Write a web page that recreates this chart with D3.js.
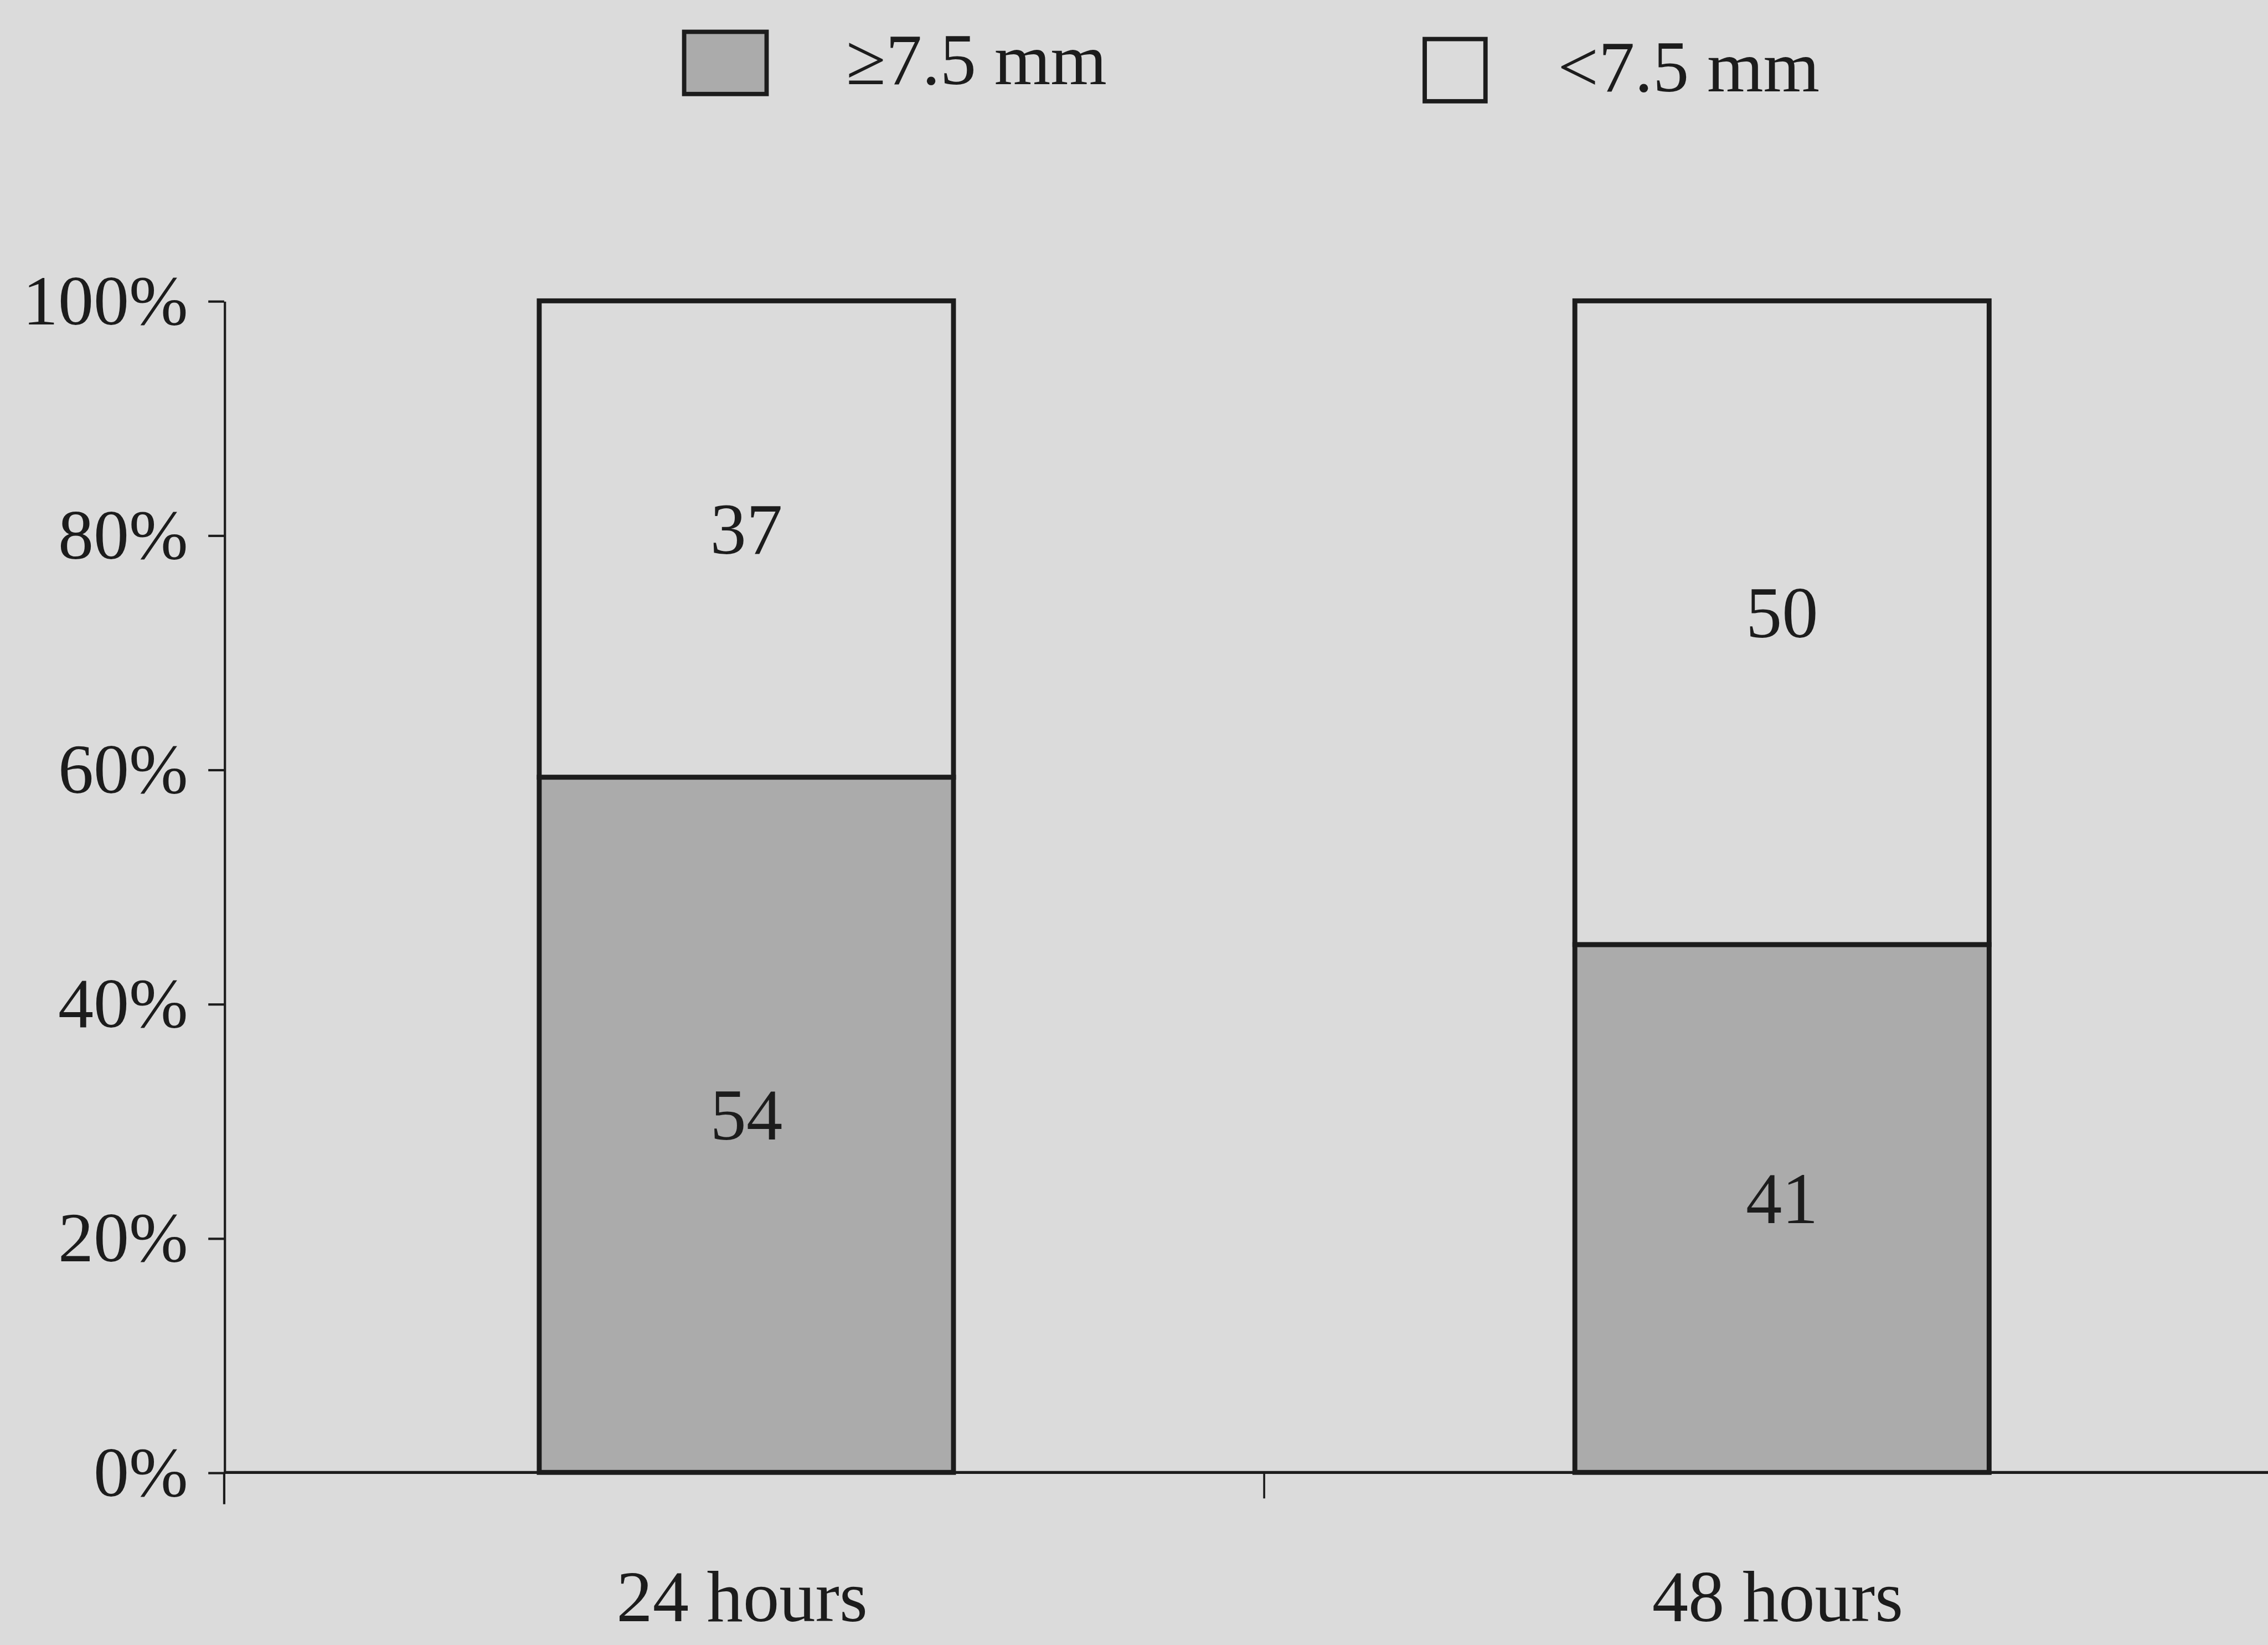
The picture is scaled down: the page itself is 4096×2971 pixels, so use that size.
<!DOCTYPE html>
<html>
<head>
<meta charset="utf-8">
<script src="https://cdn.jsdelivr.net/npm/d3@7"></script>
<style>
  html, body { margin: 0; padding: 0; background: #dbdbdb; }
  svg { display: block; }
  text { font-family: "Liberation Serif", "Times New Roman", serif; fill: #1c1c1c; }
</style>
</head>
<body>
<script>
// ---- data ----
const categories = ["24 hours", "48 hours"];
const seriesKeys = ["ge", "lt"];
const seriesLabels = ["\u22657.5 mm", "<7.5 mm"];
const geValues = [54, 41];   // ≥7.5 mm
const ltValues = [37, 50];   // <7.5 mm
const yTicks = [0, 0.2, 0.4, 0.6, 0.8, 1.0];

const rows = categories.map((c, i) => ({ cat: c, ge: geValues[i], lt: ltValues[i] }));

// ---- layout (in reference-preview units, scaled to window) ----
const W = 4096, H = 2971;
const S = W / 1568;
const bg = "#dbdbdb";
const grey = "#ababab";
const ink = "#1c1c1c";
const fills = { ge: grey, lt: bg };

const svg = d3.select("body").append("svg").attr("width", W).attr("height", H);
svg.append("rect").attr("width", W).attr("height", H).attr("fill", bg);
const g = svg.append("g").attr("transform", `scale(${S})`);

const axisX = 155, baseY = 1018, topY = 208;
const y = d3.scaleLinear().domain([0, 1]).range([baseY, topY]);
const xOuter = d3.scaleBand().domain(categories).range([158, 1590]);
const xBar = d3.scaleBand().domain(categories).range([158, 1590]).paddingInner(0.6).paddingOuter(0.3);

const stack = d3.stack().keys(seriesKeys).offset(d3.stackOffsetExpand);
const stacked = stack(rows);

// bars
const layers = g.selectAll("g.layer").data(stacked).join("g").attr("class", "layer");
layers.selectAll("rect").data(d => d.map(p => ({ p, key: d.key })))
  .join("rect")
  .attr("x", d => xBar(d.p.data.cat))
  .attr("width", xBar.bandwidth())
  .attr("y", d => y(d.p[1]))
  .attr("height", d => y(d.p[0]) - y(d.p[1]))
  .attr("fill", d => fills[d.key])
  .attr("stroke", ink)
  .attr("stroke-width", 3.4);

// value labels
layers.selectAll("text").data(d => d.map(p => ({ p, key: d.key })))
  .join("text")
  .attr("x", d => xBar(d.p.data.cat) + xBar.bandwidth() / 2)
  .attr("y", d => (y(d.p[0]) + y(d.p[1])) / 2)
  .attr("dy", "0.2em")
  .attr("text-anchor", "middle")
  .attr("font-size", 50)
  .text(d => d.p.data[d.key]);

// y axis
const yAxis = d3.axisLeft(y).tickValues(yTicks).tickFormat(d => Math.round(d * 100) + "%")
  .tickSize(11).tickSizeOuter(0).tickPadding(14);
const ya = g.append("g").attr("transform", `translate(${axisX},0)`).call(yAxis);
ya.select(".domain").attr("stroke", ink).attr("stroke-width", 1.6);
ya.selectAll(".tick line").attr("stroke", ink).attr("stroke-width", 1.6);
ya.selectAll(".tick text").attr("font-size", 49).attr("fill", ink)
  .attr("font-family", "Liberation Serif, Times New Roman, serif");
// y axis extends below base
g.append("line").attr("x1", axisX).attr("x2", axisX).attr("y1", baseY).attr("y2", baseY + 22)
  .attr("stroke", ink).attr("stroke-width", 1.6);

// x axis line
g.append("line").attr("x1", axisX).attr("x2", 1600).attr("y1", baseY).attr("y2", baseY)
  .attr("stroke", ink).attr("stroke-width", 2);
// x boundary ticks
const bounds = categories.slice(1).map(c => xOuter(c));
g.selectAll("line.xtick").data(bounds).join("line").attr("class", "xtick")
  .attr("x1", d => d).attr("x2", d => d).attr("y1", baseY).attr("y2", baseY + 18)
  .attr("stroke", ink).attr("stroke-width", 1.4);

// category labels
g.selectAll("text.cat").data(categories).join("text").attr("class", "cat")
  .attr("x", d => xBar(d) + xBar.bandwidth() / 2 - 3)
  .attr("y", 1121)
  .attr("text-anchor", "middle")
  .attr("font-size", 50)
  .text(d => d);

// legend
const legendX = [473, 985];
const legendW = [57, 42];
const legendG = g.selectAll("g.leg").data(seriesKeys).join("g").attr("class", "leg")
  .attr("transform", (d, i) => `translate(${legendX[i]},${i === 0 ? 22 : 27})`);
legendG.append("rect").attr("width", (d, i) => legendW[i]).attr("height", 43)
  .attr("fill", d => fills[d]).attr("stroke", ink).attr("stroke-width", 3);
legendG.append("text").attr("x", (d, i) => legendW[i] + (i === 0 ? 55 : 50)).attr("y", 36)
  .attr("font-size", 50).text((d, i) => seriesLabels[i]);
</script>
</body>
</html>
